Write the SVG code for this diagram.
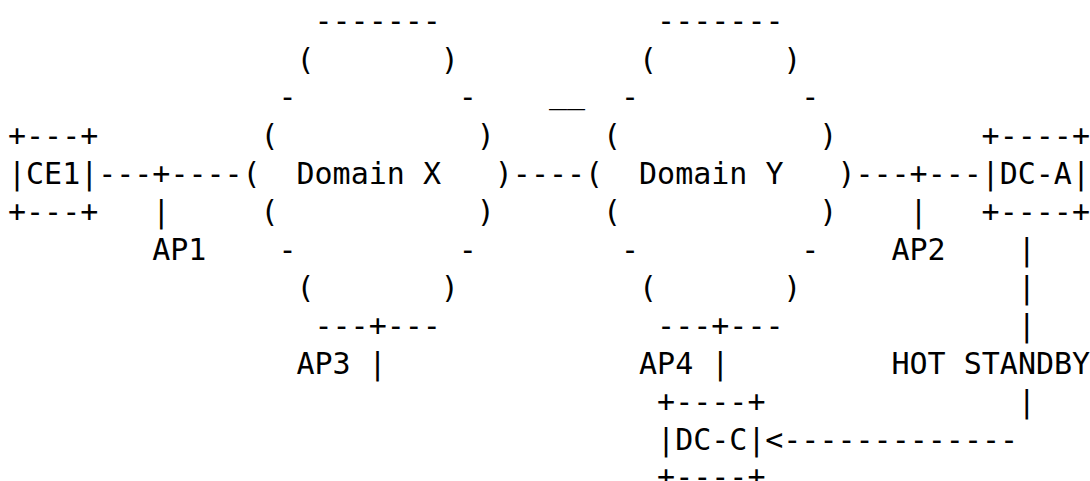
<svg xmlns="http://www.w3.org/2000/svg" width="1090" height="481" viewBox="0 0 1090 481">
<style>
text{font-family:"DejaVu Sans Mono","Liberation Mono",monospace;font-size:30px;fill:#000;white-space:pre}
</style>
<rect width="1090" height="481" fill="#fff"/>
<g id="CE1">
<text x="8" y="146.05">+---+</text>
<text x="8" y="184">|CE1|</text>
<text x="8" y="221.95">+---+</text>
</g>
<g id="domain-x">
<text x="314.51" y="31">-------</text>
<text x="296.48" y="70.15">(</text><text x="440.72" y="70.15">)</text>
<text x="278.45" y="107">-</text><text x="458.75" y="107">-</text>
<text x="260.42" y="146.05">(</text><text x="476.78" y="146.05">)</text>
<text x="242.39" y="184">(</text><text x="296.48" y="184">Domain X</text><text x="494.81" y="184">)</text>
<text x="260.42" y="221.95">(</text><text x="476.78" y="221.95">)</text>
<text x="278.45" y="259.9">-</text><text x="458.75" y="259.9">-</text>
<text x="296.48" y="297.85">(</text><text x="440.72" y="297.85">)</text>
<text x="314.51" y="335.8">---+---</text>
</g>
<g id="domain-y">
<text x="657.08" y="31">-------</text>
<text x="639.05" y="70.15">(</text><text x="783.29" y="70.15">)</text>
<text x="621.02" y="107">-</text><text x="801.32" y="107">-</text>
<text x="602.99" y="146.05">(</text><text x="819.35" y="146.05">)</text>
<text x="584.96" y="184">(</text><text x="639.05" y="184">Domain Y</text><text x="837.38" y="184">)</text>
<text x="602.99" y="221.95">(</text><text x="819.35" y="221.95">)</text>
<text x="621.02" y="259.9">-</text><text x="801.32" y="259.9">-</text>
<text x="639.05" y="297.85">(</text><text x="783.29" y="297.85">)</text>
<text x="657.08" y="335.8">---+---</text>
</g>
<g id="DC-A">
<text x="981.62" y="146.05">+----+</text>
<text x="981.62" y="184">|DC-A|</text>
<text x="981.62" y="221.95">+----+</text>
</g>
<g id="DC-C">
<text x="657.08" y="411.7">+----+</text>
<text x="657.08" y="449.65">|DC-C|</text>
<text x="657.08" y="486.5">+----+</text>
</g>
<g id="labels">
<text x="152.24" y="259.9">AP1</text>
<text x="891.47" y="259.9">AP2</text>
<text x="296.48" y="373.75">AP3</text>
<text x="639.05" y="373.75">AP4</text>
<text x="891.47" y="373.75">HOT STANDBY</text>
</g>
<g id="connectors">
<text x="98.15" y="184">---+----</text>
<text x="512.84" y="184">----</text>
<text x="855.41" y="184">---+---</text>
<text x="548.9" y="103">__</text>
<text x="152.24" y="221.95">|</text>
<text x="909.5" y="221.95">|</text>
<text x="368.6" y="373.75">|</text>
<text x="711.17" y="373.75">|</text>
<text x="1017.68" y="259.9">|</text>
<text x="1017.68" y="297.85">|</text>
<text x="1017.68" y="335.8">|</text>
<text x="1017.68" y="411.7">|</text>
<text x="765.26" y="449.65">&lt;-------------</text>
</g>
</svg>
